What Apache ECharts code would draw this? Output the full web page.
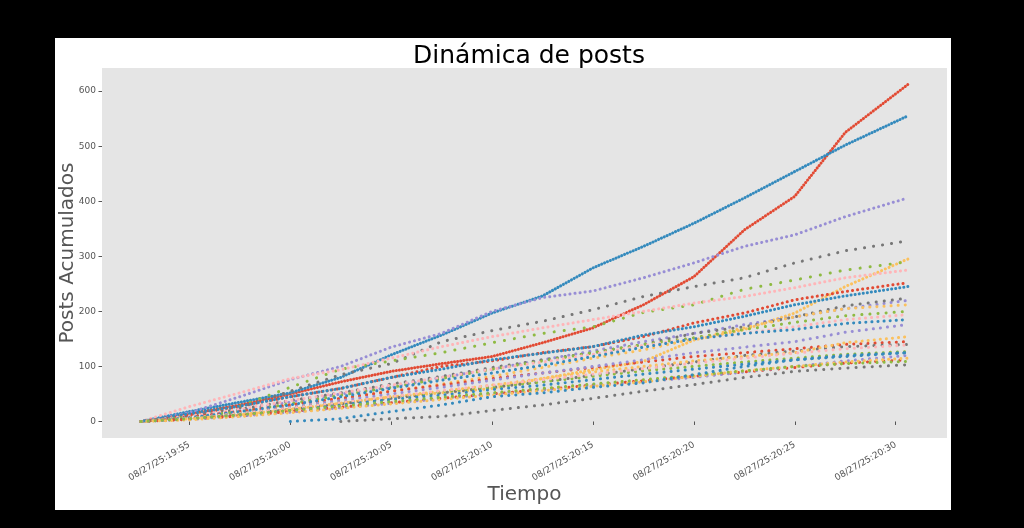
<!DOCTYPE html>
<html>
<head>
<meta charset="utf-8">
<title>Dinámica de posts</title>
<script src="https://cdn.jsdelivr.net/npm/echarts@6/dist/echarts.min.js"></script>
<style>
  html, body { margin: 0; padding: 0; background: #000; }
  #main { width: 1024px; height: 528px; }
</style>
</head>
<body>
<div id="main"></div>
<script>
// tiempo en minutos desde las 19:50 del 08/27/25
var minutos = [2.6, 5, 7.5, 10, 12.5, 15, 17.5, 20, 22.5, 25, 27.5, 30, 32.5, 35, 37.5, 40.6];
var ticksX = [5, 10, 15, 20, 25, 30, 35, 40];
var ticksY = [0, 100, 200, 300, 400, 500, 600];

// posts acumulados por cuenta (null = todavía no empezó)
var rojo1     = [0, 14, 30, 50, 72, 91, 105, 118, 143, 170, 212, 263, 348, 409, 525, 612];
var azul1     = [0, 18, 35, 52, 80, 121, 157, 197, 228, 279, 318, 360, 406, 454, 502, 555];
var morado1   = [0, 16, 45, 76, 100, 135, 160, 200, 225, 237, 261, 288, 318, 339, 372, 406];
var gris1     = [0, 10, 25, 55, 85, 105, 145, 165, 182, 203, 227, 245, 261, 288, 310, 328];
var amarillo1 = [0, 5, 12, 22, 33, 45, 52, 60, 78, 94, 109, 148, 167, 197, 245, 295];
var verde1    = [0, 12, 28, 62, 95, 110, 125, 143, 160, 172, 198, 212, 240, 257, 275, 290];
var rosa1     = [0, 27, 52, 78, 94, 115, 136, 154, 170, 185, 200, 215, 227, 243, 261, 275];
var rojo2     = [0, 12, 28, 45, 60, 80, 100, 110, 125, 136, 154, 179, 197, 221, 236, 252];
var azul2     = [0, 14, 28, 45, 60, 80, 95, 112, 124, 136, 157, 172, 191, 212, 228, 245];
var morado2   = [0, 8, 20, 35, 50, 62, 80, 95, 112, 128, 145, 160, 176, 190, 205, 220];
var gris2     = [0, 9, 22, 38, 52, 68, 82, 98, 112, 125, 140, 160, 172, 190, 210, 224];
var amarillo2 = [0, 6, 16, 30, 42, 55, 68, 82, 98, 115, 130, 150, 170, 190, 205, 212];
var verde2    = [0, 8, 18, 32, 48, 62, 78, 95, 110, 125, 140, 152, 167, 180, 192, 200];
var rosa2     = [0, 10, 22, 38, 52, 66, 80, 95, 108, 122, 138, 150, 160, 172, 185, 194];
var rojo3     = [0, 8, 18, 30, 42, 55, 66, 78, 88, 98, 108, 118, 125, 132, 140, 145];
var azul3     = [0, 7, 18, 30, 45, 60, 75, 88, 102, 118, 135, 150, 160, 167, 178, 185];
var morado3   = [0, 6, 15, 26, 38, 50, 62, 75, 88, 100, 112, 125, 135, 145, 162, 176];
var gris3     = [0, 5, 12, 22, 32, 42, 52, 62, 72, 84, 96, 108, 120, 128, 136, 140];
var amarillo3 = [0, 5, 12, 22, 33, 45, 55, 66, 78, 90, 100, 110, 118, 125, 143, 154];
var verde3    = [0, 6, 14, 24, 34, 44, 54, 62, 72, 82, 92, 100, 108, 115, 122, 127];
var rosa3     = [0, 6, 14, 24, 34, 45, 56, 66, 76, 86, 96, 106, 115, 124, 132, 139];
var rojo4     = [0, 4, 10, 18, 26, 34, 42, 50, 58, 66, 74, 82, 90, 98, 106, 112];
var azul4     = [0, 5, 12, 20, 30, 40, 48, 58, 66, 76, 86, 95, 104, 112, 120, 125];
var morado4   = [0, 4, 10, 17, 25, 33, 42, 50, 58, 66, 72, 80, 90, 100, 110, 120];
var gris4     = [null, null, null, null, 0, 5, 9, 20, 30, 42, 55, 67, 80, 91, 97, 103];
var amarillo4 = [0, 3, 9, 16, 24, 32, 40, 48, 56, 64, 72, 82, 92, 100, 108, 115];
var verde4    = [0, 5, 12, 20, 28, 36, 44, 52, 60, 68, 76, 84, 92, 100, 105, 109];
var azul5     = [null, null, null, 0, 5, 18, 30, 45, 52, 62, 70, 85, 100, 112, 118, 125];

var ROJO = '#E24A33', AZUL = '#348ABD', MORADO = '#988ED5', GRIS = '#777777',
    AMARILLO = '#FBC15E', VERDE = '#8EBA42', ROSA = '#FFB5B8';

var cuentas = [
  [rojo1, ROJO, 3], [azul1, AZUL, 3], [morado1, MORADO, 5], [gris1, GRIS, 9],
  [amarillo1, AMARILLO, 4], [verde1, VERDE, 10], [rosa1, ROSA, 5],
  [rojo2, ROJO, 5], [azul2, AZUL, 4], [morado2, MORADO, 7], [gris2, GRIS, 8],
  [amarillo2, AMARILLO, 7], [verde2, VERDE, 8], [rosa2, ROSA, 6],
  [rojo3, ROJO, 7], [azul3, AZUL, 6], [morado3, MORADO, 7], [gris3, GRIS, 8],
  [amarillo3, AMARILLO, 6], [verde3, VERDE, 7], [rosa3, ROSA, 7],
  [rojo4, ROJO, 8], [azul4, AZUL, 7], [morado4, MORADO, 7], [gris4, GRIS, 8],
  [amarillo4, AMARILLO, 6], [verde4, VERDE, 7], [azul5, AZUL, 7]
];

function hora(m) {
  var total = 19 * 60 + 50 + Math.round(m);
  var h = Math.floor(total / 60), mm = total % 60;
  return '08/27/25:' + h + ':' + (mm < 10 ? '0' : '') + mm;
}

var series = cuentas.map(function (c) {
  var puntos = [];
  minutos.forEach(function (m, i) {
    if (c[0][i] !== null) puntos.push([m, c[0][i]]);
  });
  return {
    type: 'line',
    data: puntos,
    showSymbol: false,
    symbol: 'none',
    silent: true,
    lineStyle: { color: c[1], width: 3, type: [0.1, c[2]], cap: 'round' }
  };
});

var myChart = echarts.init(document.getElementById('main'));
myChart.setOption({
  backgroundColor: '#000',
  animation: false,
  textStyle: { fontFamily: 'DejaVu Sans' },
  graphic: [{
    type: 'rect', z: -10, silent: true,
    shape: { x: 55, y: 38, width: 896, height: 472 },
    style: { fill: '#fff' }
  }],
  title: {
    text: 'Dinámica de posts',
    left: 524, top: 39, textAlign: 'center',
    textStyle: { fontSize: 25, fontWeight: 'normal', color: '#000', fontFamily: 'DejaVu Sans' }
  },
  grid: {
    left: 102, top: 68, width: 845, height: 370,
    show: true, backgroundColor: '#E5E5E5', borderWidth: 0
  },
  xAxis: {
    type: 'value', min: 0.67, max: 42.54,
    name: 'Tiempo', nameLocation: 'middle', nameGap: 47, nameMoveOverlap: false,
    nameTextStyle: { fontSize: 20, color: '#555' },
    axisLine: { show: false },
    splitLine: { show: false },
    axisTick: { show: true, customValues: ticksX, length: 3.5, lineStyle: { color: '#555' } },
    axisLabel: { customValues: ticksX, rotate: 30, fontSize: 9, color: '#555', margin: 6, formatter: hora }
  },
  yAxis: {
    type: 'value', min: -30, max: 642,
    name: 'Posts Acumulados', nameLocation: 'middle', nameGap: 24, nameMoveOverlap: false,
    nameTextStyle: { fontSize: 20, color: '#555' },
    axisLine: { show: false },
    splitLine: { show: false },
    axisTick: { show: true, customValues: ticksY, length: 3.5, lineStyle: { color: '#555' } },
    axisLabel: { customValues: ticksY, fontSize: 9, color: '#555', margin: 6 }
  },
  series: series
});
</script>
</body>
</html>
